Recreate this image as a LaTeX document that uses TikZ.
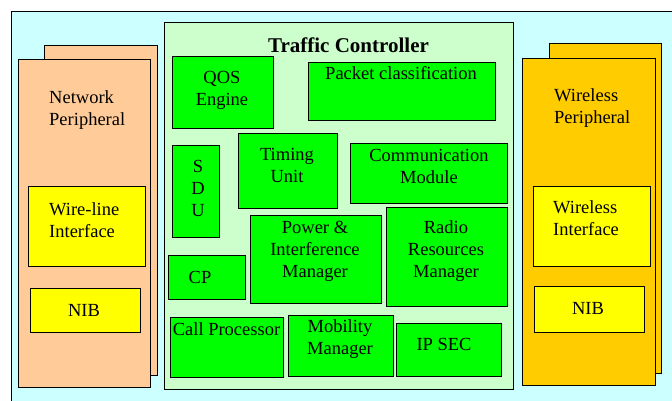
\documentclass[tikz,border=0pt]{standalone}
\usepackage{fontspec}
\setmainfont{Liberation Serif}
\usepackage{tikz}
\usetikzlibrary{positioning}

\definecolor{bgcyan}{HTML}{CCFFFF}
\definecolor{ctrlgreen}{HTML}{CCFFCC}
\definecolor{unitgreen}{HTML}{00FF00}
\definecolor{netpeach}{HTML}{FFCC99}
\definecolor{wlorange}{HTML}{FFCC00}
\definecolor{ifyellow}{HTML}{FFFF00}

\begin{document}
\begin{tikzpicture}[x=1pt, y=-1pt,
  box/.style={draw, line width=1pt, inner sep=0pt},
  unit/.style={box, fill=unitgreen},
  txt/.style={font=\fontsize{18.5}{22}\selectfont, align=center, anchor=base, inner sep=0pt},
  ltxt/.style={txt, align=left, anchor=base west}]
\useasboundingbox (0,0) rectangle (672,400);

% Background
\draw[line width=1pt, fill=bgcyan] (11,11) rectangle (700,420);

% Network peripheral
\node[box, fill=netpeach, minimum width=113, minimum height=330] (netback) at (100.5,210) {};
\node[box, fill=netpeach, minimum width=132, minimum height=328] (netbox) at (84,223) {};
\node[ltxt] (nettxt) at (49,125) {Network\\Peripheral};
\node[box, fill=ifyellow, minimum width=117, minimum height=80] (wirebox) at (86.5,226) {};
\node[ltxt] (wiretxt) at (49,237) {Wire-line\\Interface};
\node[box, fill=ifyellow, minimum width=110, minimum height=44] (nibnet) at (85,310) {};
\node[txt] (nibnettxt) at (84,316) {NIB};

% Wireless peripheral
\node[box, fill=wlorange, minimum width=112, minimum height=330] (wlback) at (605,208) {};
\node[box, fill=wlorange, minimum width=133, minimum height=327] (wlbox) at (588.5,221.5) {};
\node[ltxt] (wltxt) at (554,123) {Wireless\\Peripheral};
\node[box, fill=ifyellow, minimum width=117, minimum height=80] (wifbox) at (591.5,226) {};
\node[ltxt] (wiftxt) at (553,235) {Wireless\\Interface};
\node[box, fill=ifyellow, minimum width=110, minimum height=46] (nibwl) at (589,309) {};
\node[txt] (nibwltxt) at (588,314) {NIB};

% Traffic controller
\node[box, fill=ctrlgreen, minimum width=349, minimum height=367] (ctrlbox) at (338.5,205.5) {};
\node[txt, font=\fontsize{21}{25}\selectfont\bfseries] (ctrltxt) at (348.5,52) {Traffic Controller};

% Units
\node[unit, minimum width=101, minimum height=72] (qosbox) at (222.5,92) {};
\node[txt] (qostxt) at (222,105) {QOS\\Engine};
\node[unit, minimum width=187, minimum height=58] (pktbox) at (401.5,91) {};
\node[txt] (pkttxt) at (401,79) {Packet classification};
\node[unit, minimum width=47, minimum height=92] (sdubox) at (195.5,191) {};
\node[txt] (sdutxt) at (198,216) {S\\D\\U};
\node[unit, minimum width=99, minimum height=75] (timbox) at (287.5,170.5) {};
\node[txt] (timtxt) at (287,182) {Timing\\Unit};
\node[unit, minimum width=157, minimum height=60] (combox) at (428.5,173) {};
\node[txt] (comtxt) at (429,183) {Communication\\Module};
\node[unit, minimum width=77, minimum height=44] (cpbox) at (206.5,277) {};
\node[txt] (cptxt) at (200,283) {CP};
\node[unit, minimum width=131, minimum height=88] (pimbox) at (315.5,259) {};
\node[txt] (pimtxt) at (315,277) {Power \&\\Interference\\Manager};
\node[unit, minimum width=121, minimum height=99] (rrmbox) at (446.5,256.5) {};
\node[txt] (rrmtxt) at (446,277) {Radio\\Resources\\Manager};
\node[unit, minimum width=113, minimum height=60] (callbox) at (226.5,347) {};
\node[txt] (calltxt) at (226.5,335) {Call Processor};
\node[unit, minimum width=105, minimum height=61] (mobbox) at (340.5,345.5) {};
\node[txt] (mobtxt) at (340,354) {Mobility\\Manager};
\node[unit, minimum width=105, minimum height=53] (ipbox) at (448.5,349.5) {};
\node[txt] (iptxt) at (444,350) {IP SEC};
\end{tikzpicture}
\end{document}
